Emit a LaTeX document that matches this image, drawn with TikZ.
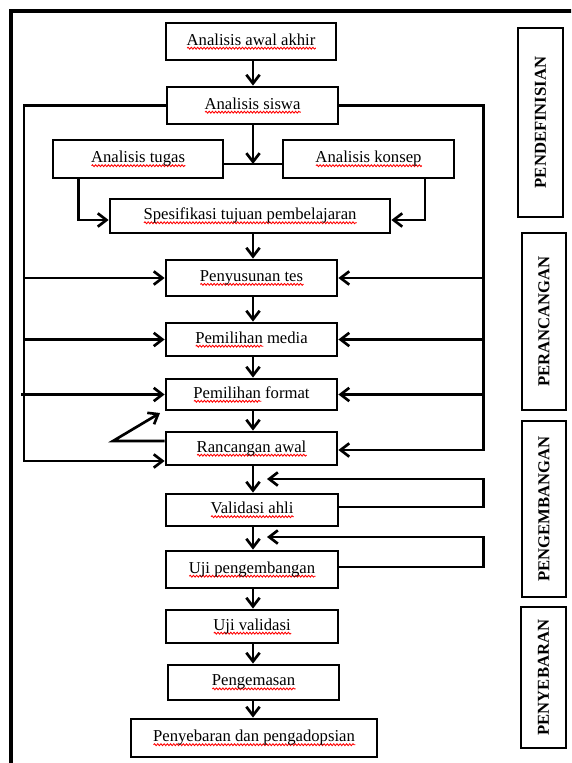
\documentclass[tikz,border=0pt]{standalone}
\usepackage{fontspec}
\setmainfont{Liberation Serif}
\usetikzlibrary{arrows.meta,calc,decorations.pathmorphing}
\newsavebox\sqbox
\newcommand\sqw[1]{\sbox\sqbox{#1}\rlap{\raisebox{-3.4pt}{\tikz\draw[red,line width=0.65pt,decorate,decoration={snake,amplitude=0.7pt,segment length=2.4pt}] (0pt,0pt) -- (\wd\sqbox,0pt);}}\usebox\sqbox}
\begin{document}
\begin{tikzpicture}[x=0.75pt,y=-0.75pt,
  box/.style={draw,line width=2.1pt,inner sep=0pt,font=\fontsize{12.5}{14}\selectfont},
  side/.style={draw,line width=2.1pt,inner sep=0pt,rotate=90,font=\bfseries\fontsize{12.5}{14}\selectfont},
  ln/.style={line width=2pt},
  arr/.style={line width=2pt,-{Straight Barb[length=6.5pt,width=10pt,line width=2pt]}}]
\useasboundingbox (0,0) rectangle (571,763);
\clip (0,0) rectangle (571,763);
% frame
\draw[line width=2.4pt] (11,800) -- (11,11) -- (620,11);
% main nodes
\node[box,minimum width=127.5pt,minimum height=27.75pt] (a1) at (251,41.5) {\sqw{Analisis awal akhir}};
\node[box,minimum width=128.25pt,minimum height=27.75pt] (a2) at (252.5,105.5) {\sqw{Analisis siswa}};
\node[box,minimum width=127.5pt,minimum height=28.5pt] (at) at (138,159) {\sqw{Analisis tugas}};
\node[box,minimum width=128.25pt,minimum height=28.5pt] (ak) at (368.5,159) {\sqw{Analisis konsep}};
\node[box,minimum width=210pt,minimum height=25.5pt] (sp) at (250,216) {\sqw{Spesifikasi tujuan pembelajaran}};
\node[box,minimum width=128.25pt,minimum height=27pt] (pt) at (251.5,278) {\sqw{Penyusunan tes}};
\node[box,minimum width=128.25pt,minimum height=24.75pt] (pm) at (251.5,339.5) {\sqw{Pemilihan} media};
\node[box,minimum width=128.25pt,minimum height=23.25pt] (pf) at (251.5,394.5) {\sqw{Pemilihan} format};
\node[box,minimum width=128.25pt,minimum height=24.75pt] (ra) at (251.5,448.5) {\sqw{Rancangan awal}};
\node[box,minimum width=129pt,minimum height=24pt] (va) at (252,510) {\sqw{Validasi ahli}};
\node[box,minimum width=129pt,minimum height=27.75pt] (up) at (252,569.5) {\sqw{Uji pengembangan}};
\node[box,minimum width=129pt,minimum height=24.75pt] (uv) at (252,626.5) {\sqw{Uji validasi}};
\node[box,minimum width=128.25pt,minimum height=26.25pt] (pg) at (253.5,682.5) {\sqw{Pengemasan}};
\node[box,minimum width=184.5pt,minimum height=28.5pt] (pd) at (254,738) {\sqw{Penyebaran dan pengadopsian}};
% side labels
\node[side,minimum width=141.75pt,minimum height=33.75pt] (s1) at (540.5,122.5) {PENDEFINISIAN};
\node[side,minimum width=132.75pt,minimum height=33pt] (s2) at (544,321.5) {PERANCANGAN};
\node[side,minimum width=132pt,minimum height=33pt] (s3) at (544,509) {PENGEMBANGAN};
\node[side,minimum width=105.75pt,minimum height=33.75pt] (s4) at (543.5,677.5) {PENYEBARAN};
% coordinates
\coordinate (j) at (253,164);
\coordinate (Lb) at (24,461);
\coordinate (Rb) at (483.5,450);
\coordinate (fb) at (113,441);
\coordinate (fbt) at (160,413);
\coordinate (v1) at (483.5,479);
\coordinate (v1t) at (267,479);
\coordinate (u1) at (483.5,537);
\coordinate (u1t) at (267,537);
% main flow
\draw[arr] (a1.south -| j) -- (a2.north -| j);
\draw[arr] (a2.south -| j) -- (j);
\draw[ln] (at.east |- j) -- (ak.west |- j);
\draw[arr] ($(at.south west)+(27,0)$) |- ($(sp.west)+(0,4)$);
\draw[arr] ($(ak.south east)+(-30.5,0)$) |- ($(sp.east)+(0,4)$);
\draw[arr] (sp.south -| j) -- (pt.north -| j);
\draw[arr] (pt.south -| j) -- (pm.north -| j);
\draw[arr] (pm.south -| j) -- (pf.north -| j);
\draw[arr] (pf.south -| j) -- (ra.north -| j);
\draw[arr] (ra.south -| j) -- (va.north -| j);
\draw[arr] (va.south -| j) -- (up.north -| j);
\draw[arr] (up.south -| j) -- (uv.north -| j);
\draw[arr] (uv.south -| j) -- (pg.north -| j);
\draw[arr] (pg.south -| j) -- (pd.north -| j);
% left loop
\draw[arr] (a2.west) -| (Lb) -- (ra.west |- Lb);
\draw[arr] (Lb |- pt.west) -- (pt.west);
\draw[arr] (Lb |- pm.west) -- (pm.west);
\draw[arr] ($(Lb |- pf.west)+(-3,0)$) -- (pf.west);
% right loop
\draw[arr] (a2.east) -| (Rb) -- (ra.east |- Rb);
\draw[arr] (Rb |- pt.east) -- (pt.east);
\draw[arr] (Rb |- pm.east) -- (pm.east);
\draw[arr] (Rb |- pf.east) -- (pf.east);
% feedback from rancangan awal
\draw[arr] (ra.west |- fb) -- (fb) -- (fbt);
% feedback loops
\draw[arr] ($(va.east)+(0,-3)$) -| (v1) -- (v1t);
\draw[arr] ($(up.east)+(0,-2.5)$) -| (u1) -- (u1t);
\end{tikzpicture}
\end{document}
